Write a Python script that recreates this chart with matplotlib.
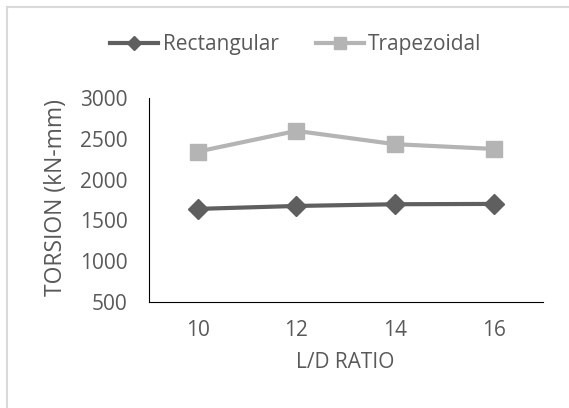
import matplotlib.pyplot as plt
from matplotlib.lines import Line2D

plt.rcParams['font.family'] = ['Open Sans', 'DejaVu Sans']

ld_ratio = ['10', '12', '14', '16']
rectangular = [1640, 1676, 1697, 1701]
trapezoidal = [2342, 2596, 2433, 2375]

text_col = '#595959'
fs = 15

fig = plt.figure(figsize=(5.69, 4.08), dpi=100)
ax = fig.add_axes([0.261, 0.26, 0.693, 0.5])

x = range(len(ld_ratio))
ax.plot(x, rectangular, color='#5f5f5f', lw=3, marker='D', ms=10,
        label='Rectangular')
ax.plot(x, trapezoidal, color='#b4b4b4', lw=3, marker='s', ms=12,
        label='Trapezoidal')

ax.set_xlim(-0.5, 3.5)
ax.set_ylim(500, 3000)
ax.set_yticks([500, 1000, 1500, 2000, 2500, 3000])
ax.set_xticks(list(x))
ax.set_xticklabels(ld_ratio)
ax.tick_params(length=0, labelsize=fs, colors=text_col)
ax.tick_params(axis='y', pad=15)
ax.tick_params(axis='x', pad=13)

for side in ['top', 'right']:
    ax.spines[side].set_visible(False)
ax.spines['left'].set_color('black')
ax.spines['bottom'].set_color('black')

ax.set_xlabel('L/D RATIO', fontsize=fs, color=text_col, labelpad=8)
ax.set_ylabel('TORSION (kN-mm)', fontsize=16.5, color=text_col)
ax.yaxis.set_label_coords(-0.205, 0.51)

fig.legend(loc='center', bbox_to_anchor=(0.52, 0.89), ncol=2, frameon=False,
           fontsize=fs, labelcolor=text_col, handlelength=2.3,
           handletextpad=0.2, columnspacing=1.8, markerscale=0.7)

# chart area border: only top and left edges visible
fig.add_artist(Line2D([0.013, 1.0], [0.982, 0.982], transform=fig.transFigure,
                      color='#d9d9d9', lw=1.5))
fig.add_artist(Line2D([0.013, 0.013], [0.0, 0.982], transform=fig.transFigure,
                      color='#d9d9d9', lw=1.5))

fig.savefig('out.png', dpi=100)
